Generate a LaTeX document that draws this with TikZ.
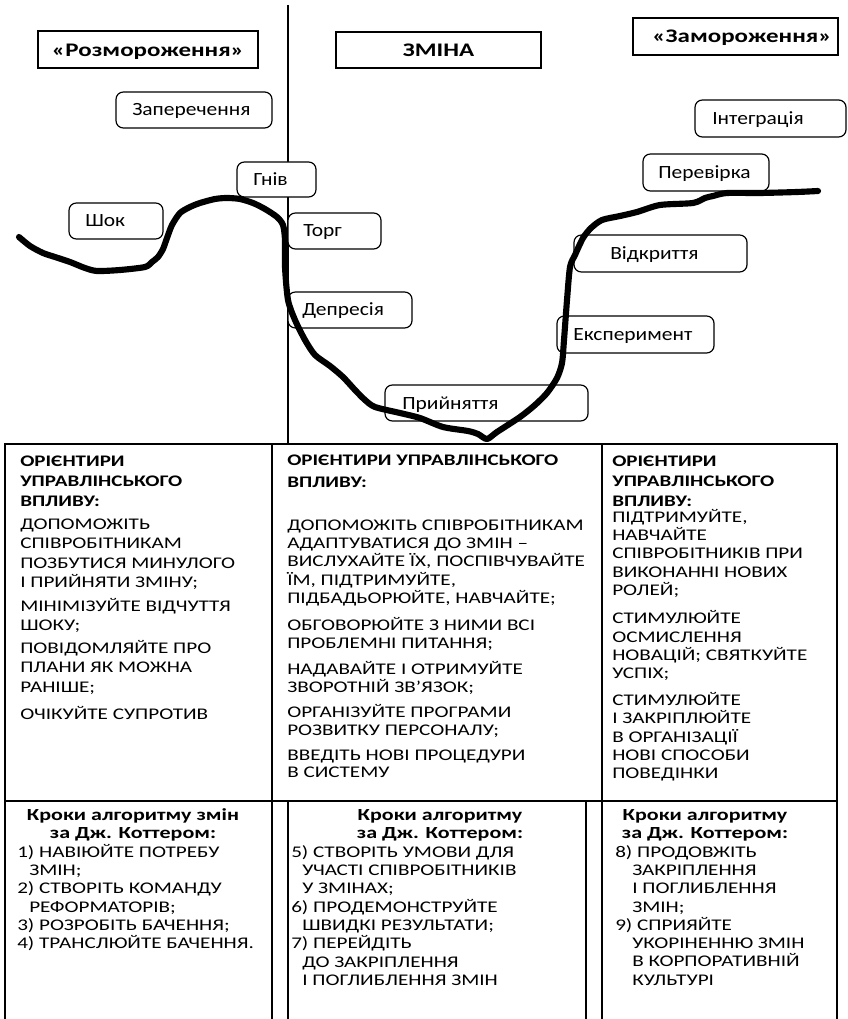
\documentclass[tikz,border=0pt]{standalone}
\usepackage{fontspec}
\setmainfont{Carlito}
\newfontfamily\tblf{Carlito}[FakeStretch=1.3]
\newfontfamily\lblf{Carlito}[FakeStretch=1.15]
\usetikzlibrary{fit}
\begin{document}
\begin{tikzpicture}[x=0.75pt,y=-0.75pt,
  stage/.style={draw, line width=1.1pt, inner sep=0pt, fill=white},
  stagetxt/.style={font=\tblf\bfseries\fontsize{14.4}{16}\selectfont, anchor=base, inner sep=0pt},
  mood/.style={draw, rounded corners=5.5pt, line width=0.9pt, inner sep=0pt, fill=white},
  moodtxt/.style={font=\lblf\fontsize{14}{16}\selectfont, anchor=base west, inner sep=0pt},
  grid/.style={line width=1.1pt},
  curve/.style={line width=4.6pt, line join=round, line cap=round},
  hd/.style={font=\tblf\bfseries\fontsize{12.1}{14}\selectfont, anchor=base west, inner sep=0pt},
  bd/.style={font=\tblf\fontsize{12.2}{14}\selectfont, anchor=base west, inner sep=0pt},
  kh/.style={font=\tblf\bfseries\fontsize{12.7}{14}\selectfont, anchor=base, inner sep=0pt}]
\useasboundingbox (0,0) rectangle (847,1019);
\begin{scope}
\clip (0,0) rectangle (847,1019);

% phase divider
\coordinate (divtop) at (288,5);
\coordinate (divbot) at (288,444);
\draw[grid] (divtop) -- (divbot);

% phase headings
\node[stage, fit={(38,31) (258,68)}] (unfreeze) {};
\node[stagetxt] (unfreezet) at (148,57) {«Розмороження»};
\node[stage, fit={(336,32) (541,68)}] (change) {};
\node[stagetxt] (changet) at (438.5,57) {ЗМІНА};
\node[stage, fit={(633,18) (838,55)}] (refreeze) {};
\node[stagetxt] (refreezet) at (742,43) {«Замороження»};

% reaction stages
\node[mood, fit={(116,92) (272,128)}] (denial) {};
\node[moodtxt] (denialt) at (132,116) {Заперечення};
\node[mood, fit={(237,162) (316,197)}] (anger) {};
\node[moodtxt] (angert) at (253,185.5) {Гнів};
\node[mood, fit={(69,203) (163,239)}] (shock) {};
\node[moodtxt] (shockt) at (85,227) {Шок};
\node[mood, fit={(288,213) (381,249)}] (bargain) {};
\node[moodtxt] (bargaint) at (303,237) {Торг};
\node[mood, fit={(288,292) (412,328)}] (depr) {};
\node[moodtxt] (deprt) at (302,316) {Депресія};
\node[mood, fit={(385,385) (588,421)}] (accept) {};
\node[moodtxt] (acceptt) at (402,409) {Прийняття};
\node[mood, fit={(557,316) (714,353)}] (exper) {};
\node[moodtxt] (expert) at (573,340.5) {Експеримент};
\node[mood, fit={(574,235) (747,272)}] (discov) {};
\node[moodtxt] (discovt) at (610,259.5) {Відкриття};
\node[mood, fit={(643,154) (769,191)}] (check) {};
\node[moodtxt] (checkt) at (658,178.5) {Перевірка};
\node[mood, fit={(695,100) (846,137)}] (integr) {};
\node[moodtxt] (integrt) at (712,124.5) {Інтеграція};

% change curve
\draw[curve] plot[smooth, tension=0.45] coordinates {
 (19,237) (30,246) (43,253) (55,257) (70,262) (85,268) (97,271) (120,270)
 (145,267) (152,262) (158,257) (163,249) (167,238) (172,225) (180,213)
 (190,207) (200,203) (215,199) (227,198) (240,199) (253,203) (265,209)
 (277,217) (283,225) (285,240) (285,267) (288,300) (295,320) (305,340)
 (315,355) (330,366) (343,377) (355,390) (365,400) (375,407) (400,413)
 (420,418) (443,427) (468,431) (478,434) (487,439) (497,432) (520,417)
 (535,405) (547,393) (557,378) (562,363) (564,340) (567,300) (570,267)
 (575,255) (583,238) (591,228) (602,220) (620,216) (637,212) (660,205)
 (693,203) (705,198) (713,196) (727,193) (760,193) (797,192) (818,191)};

% table frame
\coordinate (tl) at (5,444);   \coordinate (tr) at (837,444);
\coordinate (bl) at (5,1030);  \coordinate (br) at (837,1030);
\coordinate (ml) at (5,801);   \coordinate (mr) at (837,801);
\draw[grid] (bl) -- (tl) -- (tr) -- (br);
\draw[grid] (ml) -- (mr);
\draw[grid] (272,444) -- (272,1030);
\draw[grid] (602,444) -- (602,1030);
\draw[grid] (288,801) -- (288,1030);
\draw[grid] (586,801) -- (586,1030);

% first row: management guidelines
\foreach \y/\t [count=\i] in {466/{ОРІЄНТИРИ}, 486/{УПРАВЛІНСЬКОГО}, 506/{ВПЛИВУ:}}
  \node[hd] (ha\i) at (20,\y) {\t};
\foreach \y/\t [count=\i] in {529/{ДОПОМОЖІТЬ}, 548.5/{СПІВРОБІТНИКАМ},
  568/{ПОЗБУТИСЯ МИНУЛОГО}, 587.5/{І ПРИЙНЯТИ ЗМІНУ;},
  611/{МІНІМІЗУЙТЕ ВІДЧУТТЯ}, 630.5/{ШОКУ;},
  653/{ПОВІДОМЛЯЙТЕ ПРО}, 672.5/{ПЛАНИ ЯК МОЖНА}, 692/{РАНІШЕ;},
  719/{ОЧІКУЙТЕ СУПРОТИВ}}
  \node[bd] (ba\i) at (20,\y) {\t};

\foreach \y/\t [count=\i] in {465/{ОРІЄНТИРИ УПРАВЛІНСЬКОГО}, 487/{ВПЛИВУ:}}
  \node[hd] (hb\i) at (287,\y) {\t};
\foreach \y/\t [count=\i] in {530/{ДОПОМОЖІТЬ СПІВРОБІТНИКАМ},
  548/{АДАПТУВАТИСЯ ДО ЗМІН –}, 566.5/{ВИСЛУХАЙТЕ ЇХ, ПОСПІВЧУВАЙТЕ},
  585/{ЇМ, ПІДТРИМУЙТЕ,}, 603/{ПІДБАДЬОРЮЙТЕ, НАВЧАЙТЕ;},
  630.5/{ОБГОВОРЮЙТЕ З НИМИ ВСІ}, 648.5/{ПРОБЛЕМНІ ПИТАННЯ;},
  674/{НАДАВАЙТЕ І ОТРИМУЙТЕ}, 692/{ЗВОРОТНІЙ ЗВ’ЯЗОК;},
  717/{ОРГАНІЗУЙТЕ ПРОГРАМИ}, 735.5/{РОЗВИТКУ ПЕРСОНАЛУ;},
  760/{ВВЕДІТЬ НОВІ ПРОЦЕДУРИ}, 777.5/{В СИСТЕМУ}}
  \node[bd] (bb\i) at (287,\y) {\t};

\foreach \y/\t [count=\i] in {466/{ОРІЄНТИРИ}, 486/{УПРАВЛІНСЬКОГО}, 506/{ВПЛИВУ:}}
  \node[hd] (hc\i) at (612,\y) {\t};
\foreach \y/\t [count=\i] in {522/{ПІДТРИМУЙТЕ,}, 540/{НАВЧАЙТЕ},
  558/{СПІВРОБІТНИКІВ ПРИ}, 577/{ВИКОНАННІ НОВИХ}, 595/{РОЛЕЙ;},
  623/{СТИМУЛЮЙТЕ}, 642/{ОСМИСЛЕННЯ}, 660/{НОВАЦІЙ; СВЯТКУЙТЕ}, 678/{УСПІХ;},
  705/{СТИМУЛЮЙТЕ}, 723/{І ЗАКРІПЛЮЙТЕ}, 742/{В ОРГАНІЗАЦІЇ},
  760/{НОВІ СПОСОБИ}, 778/{ПОВЕДІНКИ}}
  \node[bd] (bc\i) at (612,\y) {\t};

% second row: Kotter's steps
\node[kh] (ka1) at (133,820) {Кроки алгоритму змін};
\node[kh] (ka2) at (133,838) {за Дж. Коттером:};
\foreach \x/\y/\t [count=\i] in {17/857/{1) НАВІЮЙТЕ ПОТРЕБУ}, 29/875/{ЗМІН;},
  17/893/{2) СТВОРІТЬ КОМАНДУ}, 29/912/{РЕФОРМАТОРІВ;},
  17/930/{3) РОЗРОБІТЬ БАЧЕННЯ;}, 17/948/{4) ТРАНСЛЮЙТЕ БАЧЕННЯ.}}
  \node[bd] (ia\i) at (\x,\y) {\t};

\node[kh] (kb1) at (440,820) {Кроки алгоритму};
\node[kh] (kb2) at (440,838) {за Дж. Коттером:};
\foreach \x/\y/\t [count=\i] in {291/857/{5) СТВОРІТЬ УМОВИ ДЛЯ}, 302/875/{УЧАСТІ СПІВРОБІТНИКІВ},
  302/893/{У ЗМІНАХ;}, 291/912/{6) ПРОДЕМОНСТРУЙТЕ}, 302/930/{ШВИДКІ РЕЗУЛЬТАТИ;},
  291/948/{7) ПЕРЕЙДІТЬ}, 302/967/{ДО ЗАКРІПЛЕННЯ}, 302/985/{І ПОГЛИБЛЕННЯ ЗМІН}}
  \node[bd] (ib\i) at (\x,\y) {\t};

\node[kh] (kc1) at (705,820) {Кроки алгоритму};
\node[kh] (kc2) at (705,838) {за Дж. Коттером:};
\foreach \x/\y/\t [count=\i] in {615/857/{8) ПРОДОВЖІТЬ}, 632/875/{ЗАКРІПЛЕННЯ},
  632/893/{І ПОГЛИБЛЕННЯ}, 632/912/{ЗМІН;}, 615/930/{9) СПРИЯЙТЕ},
  632/948/{УКОРІНЕННЮ ЗМІН}, 632/966/{В КОРПОРАТИВНІЙ}, 632/985/{КУЛЬТУРІ}}
  \node[bd] (ic\i) at (\x,\y) {\t};
\end{scope}
\end{tikzpicture}
\end{document}
